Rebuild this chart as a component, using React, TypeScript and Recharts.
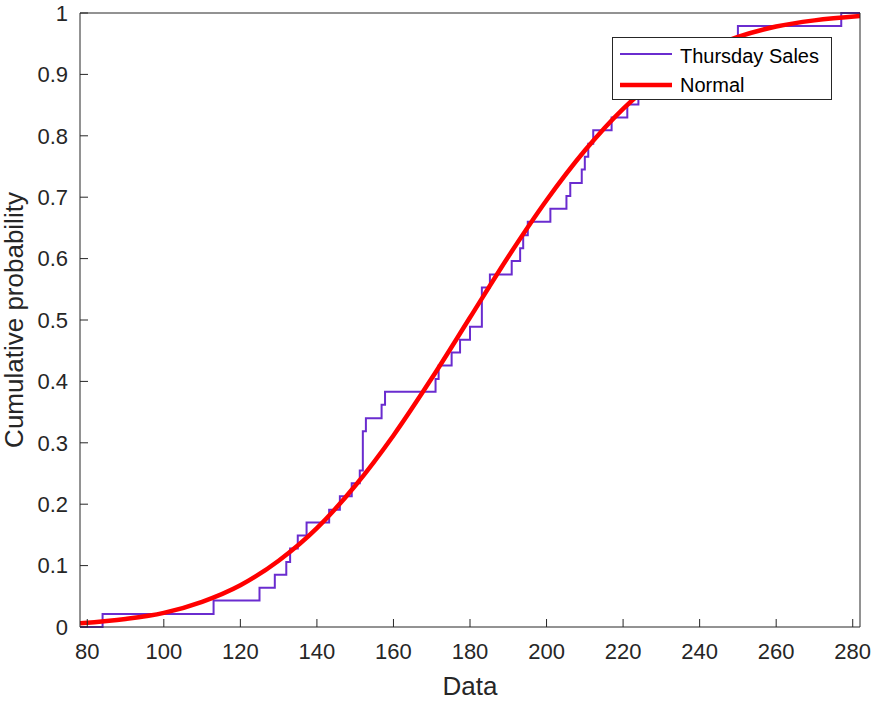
import { LineChart, Line, XAxis, YAxis, Legend } from "recharts";

// tick values
const xTicks = [80, 100, 120, 140, 160, 180, 200, 220, 240, 260, 280];
const yTicks = [0, 0.1, 0.2, 0.3, 0.4, 0.5, 0.6, 0.7, 0.8, 0.9, 1];
const yTickLabels = ["0", "0.1", "0.2", "0.3", "0.4", "0.5", "0.6", "0.7", "0.8", "0.9", "1"];

// empirical cdf of thursday sales (step positions and heights)
const salesX = [
  78.1, 84, 113, 125, 129, 132, 133, 135, 137.3, 143.2, 146, 149.1, 151.2, 152, 152.8,
  156.9, 157.8, 171, 171.8, 175.2, 177.4, 180, 183.1, 185.2, 190.9, 193.1, 193.9, 195.1,
  201, 205.2, 206.2, 209.2, 210, 210.9, 212.2, 217, 221.1, 224, 227, 231, 236, 241, 250,
  277, 281.9,
];
const salesP = [
  0, 0.021, 0.043, 0.064, 0.085, 0.106, 0.128, 0.149, 0.17, 0.191, 0.213, 0.234, 0.255,
  0.319, 0.34, 0.362, 0.383, 0.404, 0.426, 0.447, 0.468, 0.489, 0.553, 0.574, 0.596,
  0.617, 0.638, 0.66, 0.681, 0.702, 0.723, 0.745, 0.766, 0.787, 0.809, 0.83, 0.851,
  0.872, 0.894, 0.915, 0.936, 0.957, 0.979, 1, 1,
];

// fitted normal cdf
const normalX = [78.1, 90, 100, 110, 120, 130, 140, 150, 160, 170, 180, 190, 200, 210, 220, 230, 240, 250, 260, 270, 281.9];
const normalP = [
  0.006, 0.013, 0.023, 0.041, 0.068, 0.108, 0.161, 0.23, 0.312, 0.405, 0.504, 0.603,
  0.695, 0.776, 0.844, 0.896, 0.935, 0.961, 0.978, 0.988, 0.995,
];

const salesData = salesX.map((x, i) => ({ x, p: salesP[i] }));
const normalData = normalX.map((x, i) => ({ x, p: normalP[i] }));

const FONT = "'Liberation Sans', Arial, Helvetica, sans-serif";
const AXIS = "#262626";
const PURPLE = "#6a2ccf";
const RED = "#ff0000";

const LegendBox = () => (
  <div
    style={{
      width: 220,
      height: 63,
      boxSizing: "border-box",
      border: `1px solid ${AXIS}`,
      background: "#fff",
    }}
  >
    <svg width={218} height={61} style={{ display: "block" }}>
      <line x1={7} x2={59} y1={16} y2={16} stroke={PURPLE} strokeWidth={2} />
      <text x={67} y={25} fontFamily={FONT} fontSize={20} fill="#000">
        Thursday Sales
      </text>
      <line x1={7} x2={59} y1={47} y2={47} stroke={RED} strokeWidth={4.5} />
      <text x={67} y={54} fontFamily={FONT} fontSize={20} fill="#000">
        Normal
      </text>
    </svg>
  </div>
);

const YLabel = () => (
  <text
    x={23}
    y={320}
    transform="rotate(-90 23 320)"
    textAnchor="middle"
    fontFamily={FONT}
    fontSize={26}
    fill={AXIS}
  >
    Cumulative probability
  </text>
);

export default function App() {
  const tickStyle = { fontFamily: FONT, fontSize: 22, fill: AXIS };
  return (
    <div style={{ position: "absolute", left: 0, top: 0, background: "#fff" }}>
      <LineChart width={874} height={702} margin={{ top: 12, right: 13, left: 0, bottom: 0 }}>
        <XAxis
          dataKey="x"
          type="number"
          domain={[78.1, 281.9]}
          ticks={xTicks}
          allowDataOverflow
          height={75}
          tickSize={-8}
          tickMargin={24}
          tick={tickStyle}
          stroke={AXIS}
          label={{ value: "Data", position: "insideBottom", offset: 7, style: { fontFamily: FONT, fontSize: 26, fill: AXIS } }}
        />
        <XAxis
          xAxisId="top"
          dataKey="x"
          orientation="top"
          type="number"
          domain={[78.1, 281.9]}
          ticks={xTicks}
          allowDataOverflow
          height={1}
          tickSize={-8}
          tick={false}
          stroke={AXIS}
        />
        <YAxis
          type="number"
          domain={[0, 1]}
          ticks={yTicks}
          width={80}
          tickSize={-8}
          tickMargin={20}
          tick={tickStyle}
          tickFormatter={(v: number) => yTickLabels[yTicks.indexOf(v)] ?? String(v)}
          stroke={AXIS}
          label={{ content: () => <YLabel /> }}
        />
        <YAxis
          yAxisId="right"
          orientation="right"
          type="number"
          domain={[0, 1]}
          ticks={yTicks}
          allowDataOverflow
          width={1}
          tickSize={-8}
          tick={false}
          stroke={AXIS}
        />
        <Line
          data={salesData}
          dataKey="p"
          name="Thursday Sales"
          type="stepAfter"
          stroke={PURPLE}
          strokeWidth={2}
          dot={false}
          isAnimationActive={false}
        />
        <Line
          data={normalData}
          dataKey="p"
          name="Normal"
          type="monotone"
          stroke={RED}
          strokeWidth={4.5}
          dot={false}
          isAnimationActive={false}
        />
        <Legend
          layout="vertical"
          align="center"
          verticalAlign="middle"
          content={() => <LegendBox />}
          wrapperStyle={{ left: 612, top: 37, width: 220, height: 63 }}
        />
      </LineChart>
    </div>
  );
}
